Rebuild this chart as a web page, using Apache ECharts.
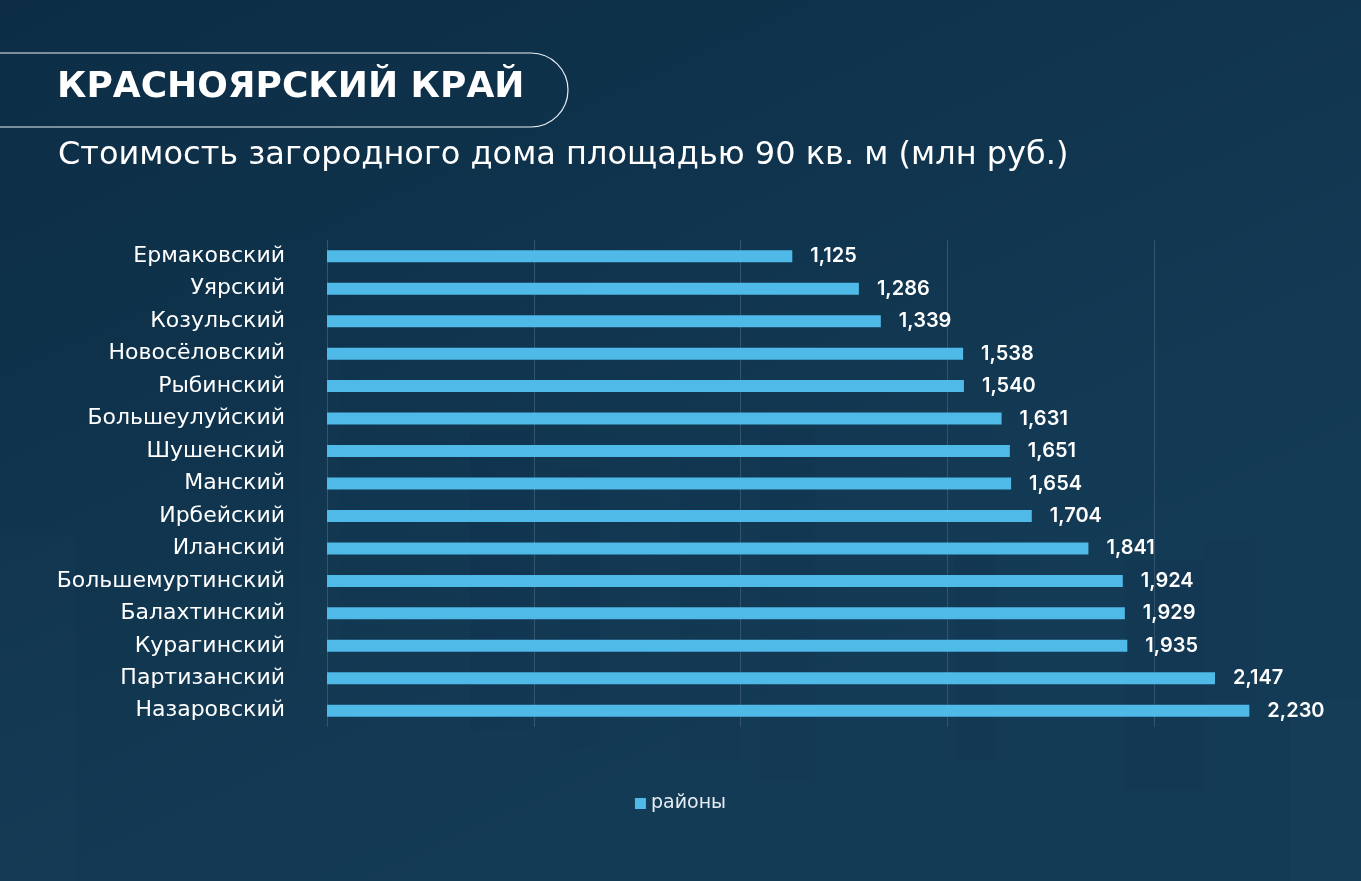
<!DOCTYPE html>
<html><head><meta charset="utf-8">
<script src="https://cdn.jsdelivr.net/npm/echarts@6/dist/echarts.min.js"></script>
<style>html,body{margin:0;padding:0;background:#0f3049;}#c{width:1361px;height:881px;}</style>
</head><body><div id="c"></div>
<script>
const categories = ["Ермаковский","Уярский","Козульский","Новосёловский","Рыбинский","Большеулуйский","Шушенский","Манский","Ирбейский","Иланский","Большемуртинский","Балахтинский","Курагинский","Партизанский","Назаровский"];
const values = [1.125,1.286,1.339,1.538,1.540,1.631,1.651,1.654,1.704,1.841,1.924,1.929,1.935,2.147,2.230];
const seriesName = "районы";
const titleText = "КРАСНОЯРСКИЙ КРАЙ";
const subtitleText = "Стоимость загородного дома площадью 90 кв. м (млн руб.)";

const chart = echarts.init(document.getElementById('c'));
const font = "'DejaVu Sans', sans-serif";
const deco = [
  [0,535,75,346,0.012],[300,360,40,300,0.008],[470,430,60,300,-0.012],[560,470,40,280,-0.012],
  [680,460,60,300,-0.01],[760,430,55,350,-0.01],[955,540,40,220,-0.02],[1125,560,80,230,-0.022],
  [1290,700,71,181,0.012],[1205,540,50,160,-0.012]
];
const decoGraphics = deco.map(d => ({type:'rect', silent:true, z:-10, shape:{x:d[0],y:d[1],width:d[2],height:d[3]},
  style:{fill: d[4] > 0 ? 'rgba(255,255,255,'+d[4]+')' : 'rgba(0,10,25,'+(-d[4]*2)+')'}}));
chart.setOption({
  backgroundColor: {type:'linear',x:0,y:0,x2:0.3,y2:1,colorStops:[{offset:0,color:'#0c2d45'},{offset:1,color:'#143b56'}]},
  graphic: decoGraphics.concat([
    {type:'rect', shape:{x:-40,y:53,width:608,height:74,r:37}, style:{fill:'none',stroke:'#e8eef2',lineWidth:1.2}},
    {type:'text', left:57, top:70, style:{text:titleText, fill:'#ffffff', font:"bold 36px 'DejaVu Sans', sans-serif"}},
    {type:'text', left:58, top:140, style:{text:subtitleText, fill:'#ffffff', font:"32px 'DejaVu Sans', sans-serif"}}
  ]),
  legend: {bottom: 63, left: 'center', itemWidth: 11, itemHeight: 11, icon: 'rect', itemGap: 4,
    textStyle: {color: '#e6edf2', fontSize: 19, fontFamily: font}, data:[seriesName]},
  grid: {left: 327, right: -3, top: 240, bottom: 154, containLabel: false},
  xAxis: {type:'value', min:0, max:2.5, interval:0.5,
    axisLabel:{show:false}, axisLine:{show:false}, axisTick:{show:false},
    splitLine:{show:true, lineStyle:{color:'#33546c', width:1}}},
  yAxis: {type:'category', data:categories, inverse:true,
    axisLine:{show:false}, axisTick:{show:false},
    axisLabel:{color:'#ffffff', fontSize:22, fontFamily:font, margin:42}},
  series: [{
    name: seriesName, type:'bar', data: values, barWidth: 12,
    itemStyle:{color:'#4fb9e8'},
    label:{show:true, position:'right', distance:18, color:'#ffffff', fontSize:20, fontWeight:600, fontFamily:"Inter, sans-serif",
      formatter: p => p.value.toFixed(3).replace('.', ',')}
  }]
});
</script></body></html>
